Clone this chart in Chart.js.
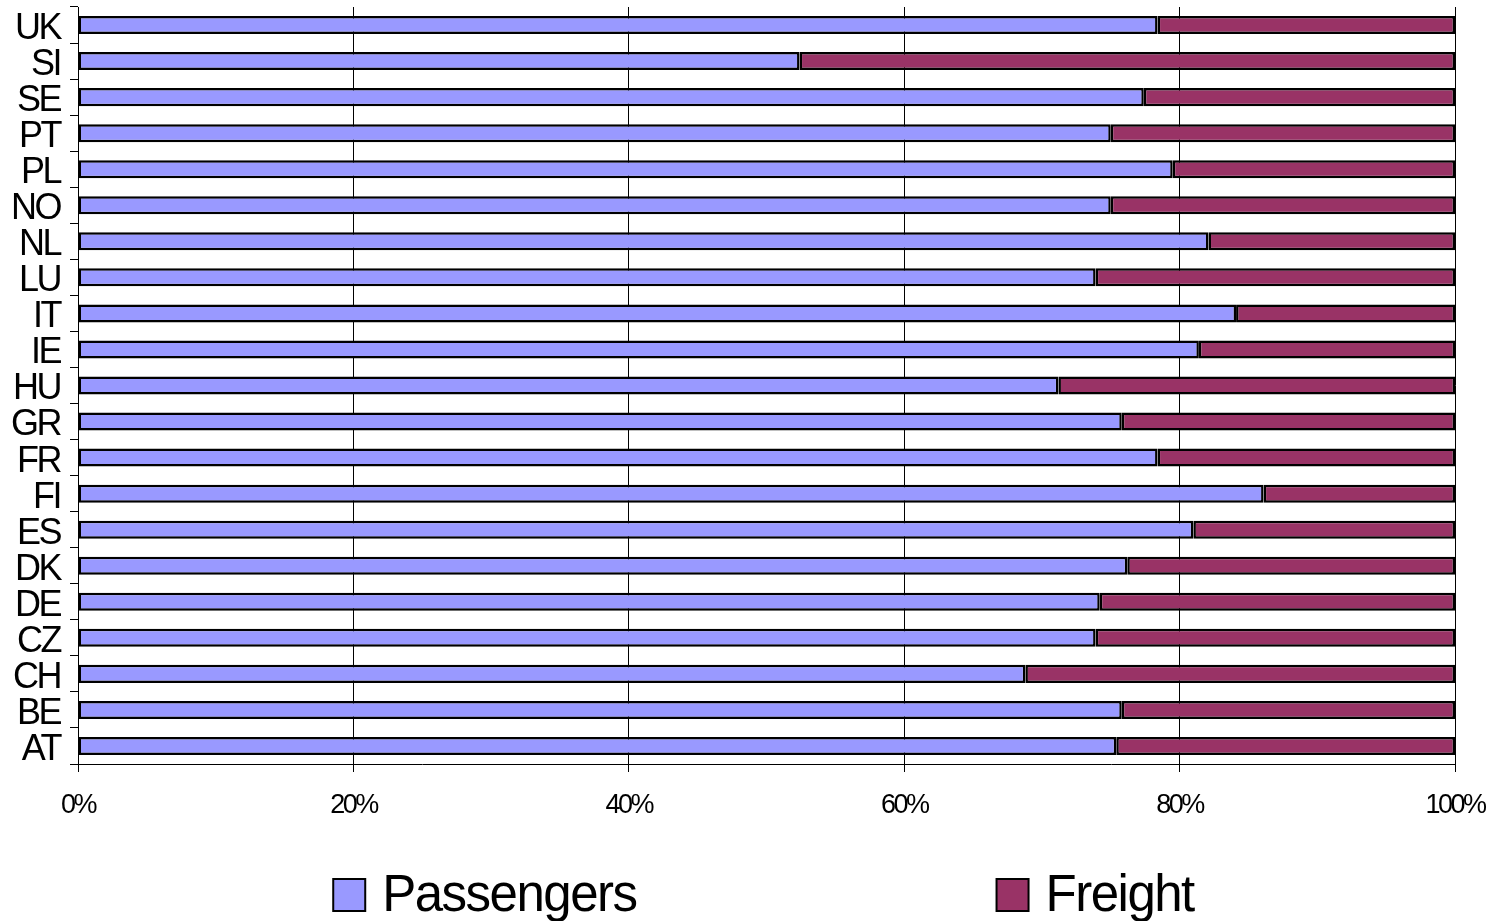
<!DOCTYPE html>
<html>
<head>
<meta charset="utf-8">
<script src="https://cdn.jsdelivr.net/npm/chart.js@4/dist/chart.umd.min.js"></script>
<style>
  html, body { margin: 0; padding: 0; background: #fff; }
  #wrap { width: 1500px; height: 921px; }
</style>
</head>
<body>
<div id="wrap"><canvas id="chart"></canvas></div>
<script>
// countries, top to bottom as in the picture
const countries = ['UK', 'SI', 'SE', 'PT', 'PL', 'NO', 'NL', 'LU', 'IT', 'IE', 'HU',
  'GR', 'FR', 'FI', 'ES', 'DK', 'DE', 'CZ', 'CH', 'BE', 'AT'];

// shares in percent
const passengers = [78.4, 52.4, 77.4, 75.0, 79.5, 75.0, 82.1, 73.9, 84.1, 81.4, 71.2,
  75.8, 78.4, 86.1, 81.0, 76.2, 74.2, 73.9, 68.8, 75.8, 75.4];
const freight = [21.6, 47.6, 22.6, 25.0, 20.5, 25.0, 17.9, 26.1, 15.9, 18.6, 28.8,
  24.2, 21.6, 13.9, 19.0, 23.8, 25.8, 26.1, 31.2, 24.2, 24.6];

const xTicks = [0, 20, 40, 60, 80, 100];

const FONT = "'Liberation Sans', Arial, sans-serif";

// legend drawn under the plot, centred on the chart area
const bottomLegend = {
  id: 'bottomLegend',
  afterDraw(chart) {
    const ctx = chart.ctx;
    const area = chart.chartArea;
    const box = 32;
    const gap = 17;
    const between = 360;
    ctx.save();
    ctx.font = '51px ' + FONT;
    ctx.letterSpacing = '-1.5px';
    ctx.textBaseline = 'middle';
    const items = chart.data.datasets.map(ds => ({
      label: ds.label,
      color: ds.backgroundColor,
      w: box + gap + ctx.measureText(ds.label).width
    }));
    const total = items.reduce((s, it) => s + it.w, 0) + between * (items.length - 1);
    let x = (area.left + area.right) / 2 - total / 2 - 3;
    const cy = 895;
    items.forEach(it => {
      ctx.fillStyle = it.color;
      ctx.fillRect(x, cy - box / 2, box, box);
      ctx.lineWidth = 2;
      ctx.strokeStyle = '#000';
      ctx.strokeRect(x, cy - box / 2, box, box);
      ctx.fillStyle = '#000';
      ctx.fillText(it.label, x + box + gap, cy + 2);
      x += it.w + between;
    });
    ctx.restore();
  }
};

const tightText = {
  id: 'tightText',
  beforeUpdate(chart) { chart.ctx.letterSpacing = '-2.5px'; },
  beforeDraw(chart) { chart.ctx.letterSpacing = '-2.5px'; }
};

new Chart(document.getElementById('chart'), {
  type: 'bar',
  data: {
    labels: countries,
    datasets: [
      {
        label: 'Passengers',
        data: passengers,
        backgroundColor: '#9999FF',
        borderColor: '#000',
        borderWidth: 2.5,
        borderSkipped: false
      },
      {
        label: 'Freight',
        data: freight,
        backgroundColor: '#993366',
        borderColor: '#000',
        borderWidth: 2.5,
        borderSkipped: false
      }
    ]
  },
  options: {
    indexAxis: 'y',
    responsive: true,
    maintainAspectRatio: false,
    animation: false,
    layout: { padding: { top: 7, right: 45, bottom: 97, left: 0 } },
    datasets: { bar: { categoryPercentage: 1, barPercentage: 0.5 } },
    plugins: {
      legend: { display: false },
      tooltip: { enabled: false }
    },
    scales: {
      x: {
        stacked: true,
        min: 0,
        max: 100,
        afterFit(scale) {
          scale.height = 60;
          scale.paddingLeft = 0;
          scale.paddingRight = 0;
        },
        afterBuildTicks(scale) { scale.ticks = xTicks.map(v => ({ value: v })); },
        grid: { color: '#000', lineWidth: 1, tickLength: 8 },
        border: { color: '#000', width: 1 },
        ticks: {
          padding: 17,
          color: '#000',
          font: { family: FONT, size: 27 },
          callback: v => v + '%'
        }
      },
      y: {
        stacked: true,
        afterFit(scale) {
          scale.width = 78;
          scale.paddingTop = 0;
          scale.paddingBottom = 0;
        },
        grid: { offset: true, drawOnChartArea: false, color: '#000', tickLength: 8 },
        border: { color: '#000', width: 1 },
        ticks: {
          autoSkip: false,
          padding: 10,
          labelOffset: 4,
          color: '#000',
          font: { family: FONT, size: 36 }
        }
      }
    }
  },
  plugins: [tightText, bottomLegend]
});
</script>
</body>
</html>
